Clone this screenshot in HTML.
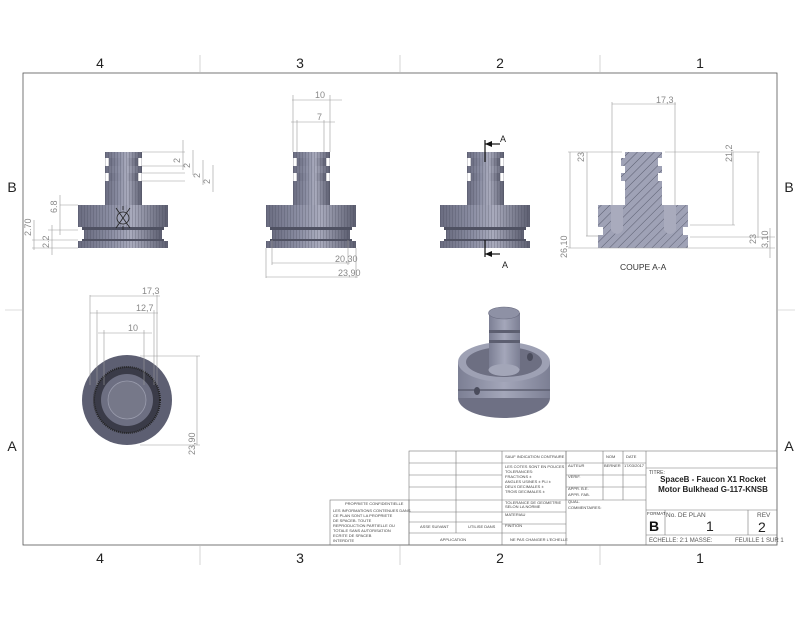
<!DOCTYPE html>
<html><head><meta charset="utf-8"><style>
html,body{margin:0;padding:0;background:#fff}
svg{display:block}
text{font-family:"Liberation Sans",sans-serif}
.d{stroke:#9a9a9a;stroke-width:0.6;fill:none}
.dt{font-size:9px;fill:#888}
.tb{stroke:#777;stroke-width:0.6;fill:none}
.s{font-size:4px;fill:#444}
</style></head><body>
<svg width="800" height="618" viewBox="0 0 800 618" xmlns="http://www.w3.org/2000/svg">
<defs>
<linearGradient id="g" x1="0" x2="1" y1="0" y2="0">
<stop offset="0" stop-color="#6a6c80"/><stop offset="0.35" stop-color="#8a8da2"/><stop offset="0.6" stop-color="#a9abbd"/><stop offset="1" stop-color="#5c5e70"/>
</linearGradient>
<linearGradient id="g2" x1="0" x2="1" y1="0" y2="0">
<stop offset="0" stop-color="#7c7f94"/><stop offset="0.5" stop-color="#a4a7ba"/><stop offset="1" stop-color="#7c7f94"/>
</linearGradient>
<pattern id="st" width="3" height="10" patternUnits="userSpaceOnUse"><rect width="3" height="10" fill="none"/><line x1="0.5" y1="0" x2="0.5" y2="10" stroke="#3e4050" stroke-width="0.6" opacity="0.4"/></pattern>
<pattern id="h" width="6" height="6" patternUnits="userSpaceOnUse" patternTransform="rotate(45)"><rect width="6" height="6" fill="#9fa2b6"/><line x1="0" y1="0" x2="0" y2="6" stroke="#4a4c5e" stroke-width="0.8"/></pattern>
<g id="part">
<rect x="27" y="0" width="37" height="6" fill="url(#g)"/>
<rect x="31" y="6" width="29" height="8" fill="url(#g)"/>
<rect x="27" y="14" width="37" height="7" fill="url(#g)"/>
<rect x="31" y="21" width="29" height="8" fill="url(#g)"/>
<rect x="27" y="29" width="37" height="24" fill="url(#g)"/>
<rect x="0" y="53" width="90" height="22" fill="url(#g)"/>
<rect x="6" y="78" width="78" height="9" fill="url(#g)"/>
<rect x="0" y="89" width="90" height="7" fill="url(#g)"/>
<rect x="27" y="0" width="37" height="53" fill="url(#st)"/>
<rect x="0" y="53" width="90" height="22" fill="url(#st)"/>
<rect x="6" y="78" width="78" height="9" fill="url(#st)"/>
<rect x="0" y="89" width="90" height="7" fill="url(#st)"/>
<rect x="4" y="75" width="82" height="3" fill="#4f5162"/>
<rect x="4" y="87" width="82" height="2" fill="#4f5162"/>
</g>
</defs>
<rect x="23" y="73" width="754" height="472" fill="none" stroke="#555" stroke-width="0.8"/>
<g stroke="#bbb" stroke-width="0.6">
<line x1="200" y1="55" x2="200" y2="73"/><line x1="400" y1="55" x2="400" y2="73"/><line x1="600" y1="55" x2="600" y2="73"/>
<line x1="200" y1="545" x2="200" y2="565"/><line x1="400" y1="545" x2="400" y2="565"/><line x1="600" y1="545" x2="600" y2="565"/>
<line x1="5" y1="310" x2="23" y2="310"/><line x1="777" y1="310" x2="795" y2="310"/>
</g>
<g font-size="14" fill="#222" text-anchor="middle">
<text x="100" y="68">4</text><text x="300" y="68">3</text><text x="500" y="68">2</text><text x="700" y="68">1</text>
<text x="100" y="563">4</text><text x="300" y="563">3</text><text x="500" y="563">2</text><text x="700" y="563">1</text>
<text x="12" y="192">B</text><text x="789" y="192">B</text><text x="12" y="451">A</text><text x="789" y="451">A</text>
</g>
<use href="#part" x="78" y="152"/>
<circle cx="123" cy="218" r="6" fill="#9fa2b6" stroke="#222" stroke-width="0.8"/>
<g stroke="#222" stroke-width="0.8"><line x1="116" y1="208" x2="130" y2="228"/><line x1="130" y1="208" x2="116" y2="228"/><line x1="123" y1="206" x2="123" y2="210"/><line x1="123" y1="226" x2="123" y2="230"/></g>
<g class="d">
<line x1="142" y1="152" x2="185" y2="152"/><line x1="142" y1="166" x2="185" y2="166"/><line x1="142" y1="173" x2="185" y2="173"/><line x1="142" y1="181" x2="185" y2="181"/>
<line x1="183" y1="140" x2="183" y2="170"/><line x1="193" y1="150" x2="193" y2="175"/><line x1="203" y1="160" x2="203" y2="185"/><line x1="213" y1="165" x2="213" y2="192"/>
<line x1="60" y1="205" x2="78" y2="205"/><line x1="48" y1="230" x2="78" y2="230"/><line x1="32" y1="240" x2="78" y2="240"/><line x1="32" y1="248" x2="78" y2="248"/>
<line x1="60" y1="195" x2="60" y2="235"/><line x1="52" y1="225" x2="52" y2="255"/><line x1="34" y1="220" x2="34" y2="250"/>
</g>
<g class="dt"><text x="57" y="213" transform="rotate(-90 57 213)">6.8</text><text x="49" y="248" transform="rotate(-90 49 248)">2.2</text><text x="31" y="236" transform="rotate(-90 31 236)">2.70</text>
<text x="180" y="163" transform="rotate(-90 180 163)">2</text><text x="190" y="168" transform="rotate(-90 190 168)">2</text><text x="200" y="178" transform="rotate(-90 200 178)">2</text><text x="210" y="184" transform="rotate(-90 210 184)">2</text></g>
<use href="#part" x="266" y="152"/>
<g class="d">
<line x1="293" y1="95" x2="293" y2="152"/><line x1="330" y1="95" x2="330" y2="152"/><line x1="297" y1="120" x2="297" y2="152"/><line x1="324" y1="120" x2="324" y2="152"/>
<line x1="292" y1="100" x2="342" y2="100"/><line x1="291" y1="122" x2="335" y2="122"/>
<line x1="266" y1="248" x2="266" y2="278"/><line x1="272" y1="240" x2="272" y2="265"/><line x1="348" y1="240" x2="348" y2="265"/><line x1="356" y1="248" x2="356" y2="278"/>
<line x1="272" y1="263" x2="350" y2="263"/><line x1="266" y1="277" x2="358" y2="277"/>
</g>
<g class="dt"><text x="315" y="98">10</text><text x="317" y="120">7</text><text x="335" y="262">20,30</text><text x="338" y="276">23,90</text></g>
<use href="#part" x="440" y="152"/>
<g stroke="#111" stroke-width="1.2" fill="none"><polyline points="485,140 485,162"/><line x1="485" y1="144" x2="500" y2="144"/><polyline points="485,240 485,257"/><line x1="485" y1="254" x2="500" y2="254"/></g>
<polygon points="485,144 492,141 492,147" fill="#111"/><polygon points="485,254 492,251 492,257" fill="#111"/>
<text x="500" y="142" font-size="9" fill="#222">A</text><text x="502" y="268" font-size="9" fill="#222">A</text>
<path d="M625,152 H662 V158 H658 V166 H662 V173 H658 V181 H662 V205 H688 V227 H683 V235 H688 V248 H598 V235 H603 V227 H598 V205 H625 V181 H621 V173 H625 V166 H621 V158 H625 Z" fill="url(#h)"/>
<path d="M611,205 H623 V230 Q617,238 611,230 Z" fill="#a9abbd"/><path d="M664,205 H676 V230 Q670,238 664,230 Z" fill="#a9abbd"/>
<g class="d">
<line x1="612" y1="102" x2="612" y2="205"/><line x1="675" y1="102" x2="675" y2="205"/><line x1="612" y1="104" x2="676" y2="104"/>
<line x1="568" y1="152" x2="622" y2="152"/><line x1="665" y1="152" x2="760" y2="152"/>
<line x1="570" y1="152" x2="570" y2="248"/><line x1="587" y1="152" x2="587" y2="236"/><line x1="586" y1="236" x2="600" y2="236"/>
<line x1="690" y1="225" x2="735" y2="225"/><line x1="733" y1="152" x2="733" y2="225"/><line x1="758" y1="152" x2="758" y2="238"/>
<line x1="690" y1="237" x2="775" y2="237"/><line x1="568" y1="248" x2="775" y2="248"/><line x1="770" y1="228" x2="770" y2="258"/>
</g>
<g class="dt"><text x="656" y="103">17,3</text><text x="584" y="162" transform="rotate(-90 584 162)">23</text><text x="732" y="162" transform="rotate(-90 732 162)">21,2</text>
<text x="567" y="258" transform="rotate(-90 567 258)">26,10</text><text x="756" y="244" transform="rotate(-90 756 244)">23</text><text x="768" y="248" transform="rotate(-90 768 248)">3,10</text></g>
<text x="620" y="270" font-size="8.5" fill="#333">COUPE A-A</text>
<circle cx="127" cy="400" r="45" fill="#5d5f72"/>
<circle cx="127" cy="400" r="33" fill="#3a3b48" stroke="#222" stroke-width="2" stroke-dasharray="1 1"/>
<circle cx="127" cy="400" r="26" fill="#6d6f82"/>
<circle cx="127" cy="400" r="19" fill="#767889" stroke="#9a9cad" stroke-width="0.8"/>
<g class="d">
<line x1="90" y1="295" x2="90" y2="385"/><line x1="97" y1="310" x2="97" y2="385"/><line x1="104" y1="330" x2="104" y2="385"/>
<line x1="144" y1="330" x2="144" y2="385"/><line x1="154" y1="310" x2="154" y2="385"/><line x1="157" y1="295" x2="157" y2="385"/>
<line x1="90" y1="296" x2="160" y2="296"/><line x1="90" y1="313" x2="158" y2="313"/><line x1="98" y1="333" x2="152" y2="333"/>
<line x1="140" y1="356" x2="200" y2="356"/><line x1="140" y1="445" x2="200" y2="445"/><line x1="197" y1="356" x2="197" y2="445"/>
</g>
<g class="dt"><text x="142" y="294">17,3</text><text x="136" y="311">12,7</text><text x="128" y="331">10</text><text x="195" y="455" transform="rotate(-90 195 455)">23,90</text></g>
<!-- iso -->
<ellipse cx="504" cy="398" rx="46" ry="20" fill="#6e7084"/>
<rect x="458" y="362" width="92" height="36" fill="url(#g2)"/>
<line x1="458" y1="390" x2="550" y2="390" stroke="#5c5e70" stroke-width="1.5"/>
<ellipse cx="504" cy="362" rx="46" ry="20" fill="#9ea1b4"/>
<ellipse cx="504" cy="362" rx="38" ry="15" fill="#6d6f82"/>
<rect x="489" y="313" width="31" height="57" fill="url(#g2)"/>
<ellipse cx="504" cy="370" rx="15.5" ry="6" fill="#a3a6b8"/>
<rect x="489" y="330" width="31" height="3" fill="#5c5e70"/><rect x="489" y="340" width="31" height="3" fill="#5c5e70"/>
<ellipse cx="504" cy="313" rx="15.5" ry="6" fill="#8e91a5" stroke="#6a6c80" stroke-width="0.6"/>
<ellipse cx="477" cy="391" rx="3" ry="4" fill="#4a4c5c"/><ellipse cx="530" cy="357" rx="3" ry="4" fill="#4a4c5c"/>
<g class="tb">
<rect x="409" y="451" width="368" height="94"/>
<rect x="330" y="500" width="79" height="45"/>
<line x1="456" y1="451" x2="456" y2="533"/><line x1="502" y1="451" x2="502" y2="545"/><line x1="566" y1="451" x2="566" y2="500"/>
<line x1="603" y1="451" x2="603" y2="500"/><line x1="623" y1="451" x2="623" y2="500"/><line x1="646" y1="451" x2="646" y2="545"/>
<line x1="409" y1="463" x2="502" y2="463"/><line x1="409" y1="475" x2="502" y2="475"/><line x1="409" y1="487" x2="502" y2="487"/><line x1="409" y1="500" x2="502" y2="500"/>
<line x1="409" y1="512" x2="502" y2="512"/><line x1="409" y1="522" x2="502" y2="522"/><line x1="409" y1="533" x2="566" y2="533"/>
<line x1="502" y1="463" x2="646" y2="463"/><line x1="566" y1="475" x2="646" y2="475"/><line x1="566" y1="487" x2="646" y2="487"/><line x1="502" y1="500" x2="646" y2="500"/>
<line x1="566" y1="451" x2="566" y2="545"/><line x1="502" y1="512" x2="566" y2="512"/><line x1="502" y1="524" x2="566" y2="524"/>
<line x1="646" y1="468" x2="777" y2="468"/><line x1="646" y1="510" x2="777" y2="510"/><line x1="646" y1="535" x2="777" y2="535"/>
<line x1="665" y1="510" x2="665" y2="535"/><line x1="748" y1="510" x2="748" y2="535"/>
</g>
<g class="s">
<text x="505" y="458">SAUF INDICATION CONTRAIRE</text><text x="505" y="468">LES COTES SONT EN POUCES</text><text x="505" y="473">TOLERANCES:</text><text x="505" y="478">FRACTIONS ±</text><text x="505" y="483">ANGLES USINES ±  PLI ±</text><text x="505" y="488">DEUX DECIMALES ±</text><text x="505" y="493">TROIS DECIMALES ±</text>
<text x="505" y="504">TOLERANCE DE GEOMETRIE</text><text x="505" y="508">SELON LA NORME</text><text x="505" y="516">MATERIAU</text><text x="505" y="527">FINITION</text><text x="510" y="541">NE PAS CHANGER L'ECHELLE</text>
<text x="606" y="458">NOM</text><text x="626" y="458">DATE</text><text x="568" y="467">AUTEUR</text><text x="604" y="467">BERNER</text><text x="624" y="467">17/03/2017</text>
<text x="568" y="478">VERIF.</text><text x="568" y="490">APPR. B.E.</text><text x="568" y="496">APPR. FAB.</text><text x="568" y="503">QUAL.</text><text x="568" y="509">COMMENTAIRES:</text>
<text x="420" y="528">ASSE SUIVANT</text><text x="468" y="528">UTILISE DANS</text><text x="440" y="541">APPLICATION</text>
<text x="345" y="505">PROPRIETE CONFIDENTIELLE</text><text x="333" y="512">LES INFORMATIONS CONTENUES DANS</text><text x="333" y="517">CE PLAN SONT LA PROPRIETE</text><text x="333" y="522">DE SPACEB. TOUTE</text><text x="333" y="527">REPRODUCTION PARTIELLE OU</text><text x="333" y="532">TOTALE SANS AUTORISATION</text><text x="333" y="537">ECRITE DE SPACEB</text><text x="333" y="542">INTERDITE</text>
</g>
<text x="649" y="474" font-size="5" fill="#444">TITRE:</text>
<text x="713" y="482" font-size="8" font-weight="bold" fill="#222" text-anchor="middle">SpaceB - Faucon X1 Rocket</text>
<text x="713" y="492" font-size="8" font-weight="bold" fill="#222" text-anchor="middle">Motor Bulkhead G-117-KNSB</text>
<text x="647" y="515" font-size="4.5" fill="#444">FORMAT</text><text x="666" y="517" font-size="6.5" fill="#555">No. DE PLAN</text><text x="757" y="517" font-size="6.5" fill="#555">REV</text>
<text x="649" y="531" font-size="14" font-weight="bold" fill="#111">B</text><text x="706" y="531" font-size="14" fill="#222">1</text><text x="758" y="532" font-size="14" fill="#222">2</text>
<text x="649" y="542" font-size="6" fill="#555">ECHELLE: 2:1 MASSE:</text><text x="735" y="542" font-size="6" fill="#555">FEUILLE 1 SUR 1</text>
</svg>
</body></html>
